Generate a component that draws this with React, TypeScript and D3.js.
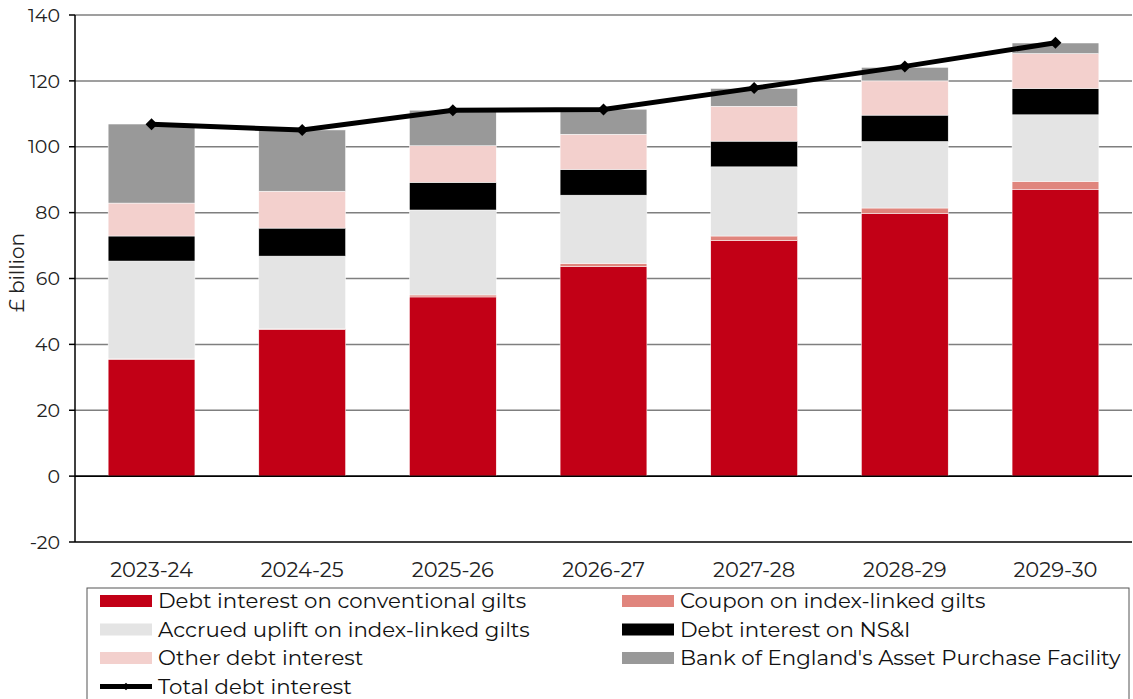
import React, { useEffect, useRef } from 'react'
import * as d3 from 'd3'

// values, £ billion
const years = ['2023-24', '2024-25', '2025-26', '2026-27', '2027-28', '2028-29', '2029-30']
const conventional = [35.5, 44.6, 54.4, 63.6, 71.5, 79.7, 87.1]
const coupon = [0.1, 0.1, 0.6, 1.0, 1.4, 1.7, 2.4]
const accrued = [29.7, 22.1, 25.8, 20.7, 21.0, 20.2, 20.2]
const nsi = [7.6, 8.5, 8.4, 7.8, 7.8, 8.0, 8.0]
const other = [10.0, 11.2, 11.1, 10.7, 10.6, 10.4, 10.6]
const apf = [24.0, 18.6, 10.8, 7.6, 5.4, 4.1, 3.2]
const total = [106.8, 105.1, 111.1, 111.3, 117.8, 124.4, 131.6]
const yTicks = [-20, 0, 20, 40, 60, 80, 100, 120, 140]

const seriesNames = [
  'Debt interest on conventional gilts',
  'Coupon on index-linked gilts',
  'Accrued uplift on index-linked gilts',
  'Debt interest on NS&I',
  'Other debt interest',
  "Bank of England's Asset Purchase Facility",
]
const seriesColors = ['#c20016', '#e0857d', '#e4e4e4', '#000000', '#f3d0cd', '#999999']
const lineName = 'Total debt interest'

const W = 1133
const H = 699
const FONT = 'Montserrat, "Open Sans", "Noto Sans", sans-serif'

export default function App() {
  const ref = useRef<SVGSVGElement>(null)

  useEffect(() => {
    const svg = d3.select(ref.current)
    svg.selectAll('*').remove()

    const left = 75, right = 1132, top = 15, bottom = 542

    const x = d3.scaleBand().domain(years).range([left, right]).paddingInner(0.424).paddingOuter(0.22)
    const y = d3.scaleLinear().domain([-20, 140]).range([bottom, top])
    const mid = (i: number) => (x(years[i]) as number) + x.bandwidth() / 2

    // gridlines
    svg.append('g').selectAll('line')
      .data(yTicks)
      .enter()
      .append('line')
      .attr('x1', left).attr('x2', right)
      .attr('y1', d => y(d)).attr('y2', d => y(d))
      .attr('stroke', d => (d === 0 || d === -20 ? '#000' : '#7f7f7f'))
      .attr('stroke-width', 1.5)

    // stacked bars
    const rows = years.map((yr, i) => ({
      year: yr,
      s0: conventional[i], s1: coupon[i], s2: accrued[i], s3: nsi[i], s4: other[i], s5: apf[i],
    }))
    const keys = ['s0', 's1', 's2', 's3', 's4', 's5']
    const stacked = d3.stack<any>().keys(keys)(rows)

    svg.append('g').selectAll('g')
      .data(stacked)
      .enter()
      .append('g')
      .attr('fill', (d, i) => seriesColors[i])
      .selectAll('rect')
      .data(d => d)
      .enter()
      .append('rect')
      .attr('x', d => x(d.data.year) as number)
      .attr('width', x.bandwidth())
      .attr('y', d => y(d[1]))
      .attr('height', d => y(d[0]) - y(d[1]))
      .attr('stroke', '#fff')
      .attr('stroke-width', 0.5)

    // axis line + ticks
    svg.append('line')
      .attr('x1', left).attr('x2', left).attr('y1', top).attr('y2', bottom)
      .attr('stroke', '#000').attr('stroke-width', 1.5)
    svg.append('line')
      .attr('x1', left).attr('x2', right).attr('y1', y(0)).attr('y2', y(0))
      .attr('stroke', '#000').attr('stroke-width', 1.5)
    svg.append('g').selectAll('line')
      .data(yTicks)
      .enter()
      .append('line')
      .attr('x1', left - 6).attr('x2', left)
      .attr('y1', d => y(d)).attr('y2', d => y(d))
      .attr('stroke', '#000').attr('stroke-width', 1.5)

    svg.append('g').selectAll('text')
      .data(yTicks)
      .enter()
      .append('text')
      .attr('x', left - 15)
      .attr('y', d => y(d))
      .attr('dy', '0.35em')
      .attr('text-anchor', 'end')
      .attr('font-family', FONT)
      .attr('font-size', 19)
      .attr('fill', '#222')
      .text(d => d)

    svg.append('text')
      .attr('transform', `translate(24,${(top + bottom) / 2 - 6}) rotate(-90)`)
      .attr('text-anchor', 'middle')
      .attr('font-family', FONT)
      .attr('font-size', 20)
      .attr('fill', '#222')
      .text('£ billion')

    svg.append('g').selectAll('text')
      .data(years)
      .enter()
      .append('text')
      .attr('x', d => (x(d) as number) + x.bandwidth() / 2)
      .attr('y', 570)
      .attr('dy', '0.35em')
      .attr('text-anchor', 'middle')
      .attr('font-family', FONT)
      .attr('font-size', 21)
      .attr('fill', '#222')
      .text(d => d)

    // total line
    const line = d3.line<number>()
      .x((d, i) => mid(i))
      .y(d => y(d))
    svg.append('path')
      .datum(total)
      .attr('d', line)
      .attr('fill', 'none')
      .attr('stroke', '#000')
      .attr('stroke-width', 5)
    svg.append('g').selectAll('path')
      .data(total)
      .enter()
      .append('path')
      .attr('transform', (d, i) => `translate(${mid(i)},${y(d)}) rotate(45)`)
      .attr('d', d3.symbol().type(d3.symbolSquare).size(72))
      .attr('fill', '#000')

    // legend
    const lg = svg.append('g')
    lg.append('rect')
      .attr('x', 87).attr('y', 588).attr('width', 1042).attr('height', 120)
      .attr('fill', '#fff').attr('stroke', '#555').attr('stroke-width', 1)
    const cols = [100, 622]
    const rowsY = [601, 629.5, 658, 686.5]
    seriesNames.forEach((name, i) => {
      const cx = cols[i % 2]
      const cy = rowsY[Math.floor(i / 2)]
      lg.append('rect')
        .attr('x', cx).attr('y', cy - 6).attr('width', 52).attr('height', 12)
        .attr('fill', seriesColors[i])
      lg.append('text')
        .attr('x', cx + 58).attr('y', cy).attr('dy', '0.35em')
        .attr('font-family', FONT).attr('font-size', 21.3).attr('fill', '#111')
        .text(name)
    })
    const ly = rowsY[3]
    lg.append('line')
      .attr('x1', 100).attr('x2', 152).attr('y1', ly).attr('y2', ly)
      .attr('stroke', '#000').attr('stroke-width', 5)
    lg.append('path')
      .attr('transform', `translate(126,${ly}) rotate(45)`)
      .attr('d', d3.symbol().type(d3.symbolSquare).size(30))
      .attr('fill', '#000')
    lg.append('text')
      .attr('x', 158).attr('y', ly).attr('dy', '0.35em')
      .attr('font-family', FONT).attr('font-size', 21.3).attr('fill', '#111')
      .text(lineName)
  }, [])

  return (
    <svg ref={ref} width={W} height={H} style={{ position: 'absolute', left: 0, top: 0, background: '#fff' }} />
  )
}
